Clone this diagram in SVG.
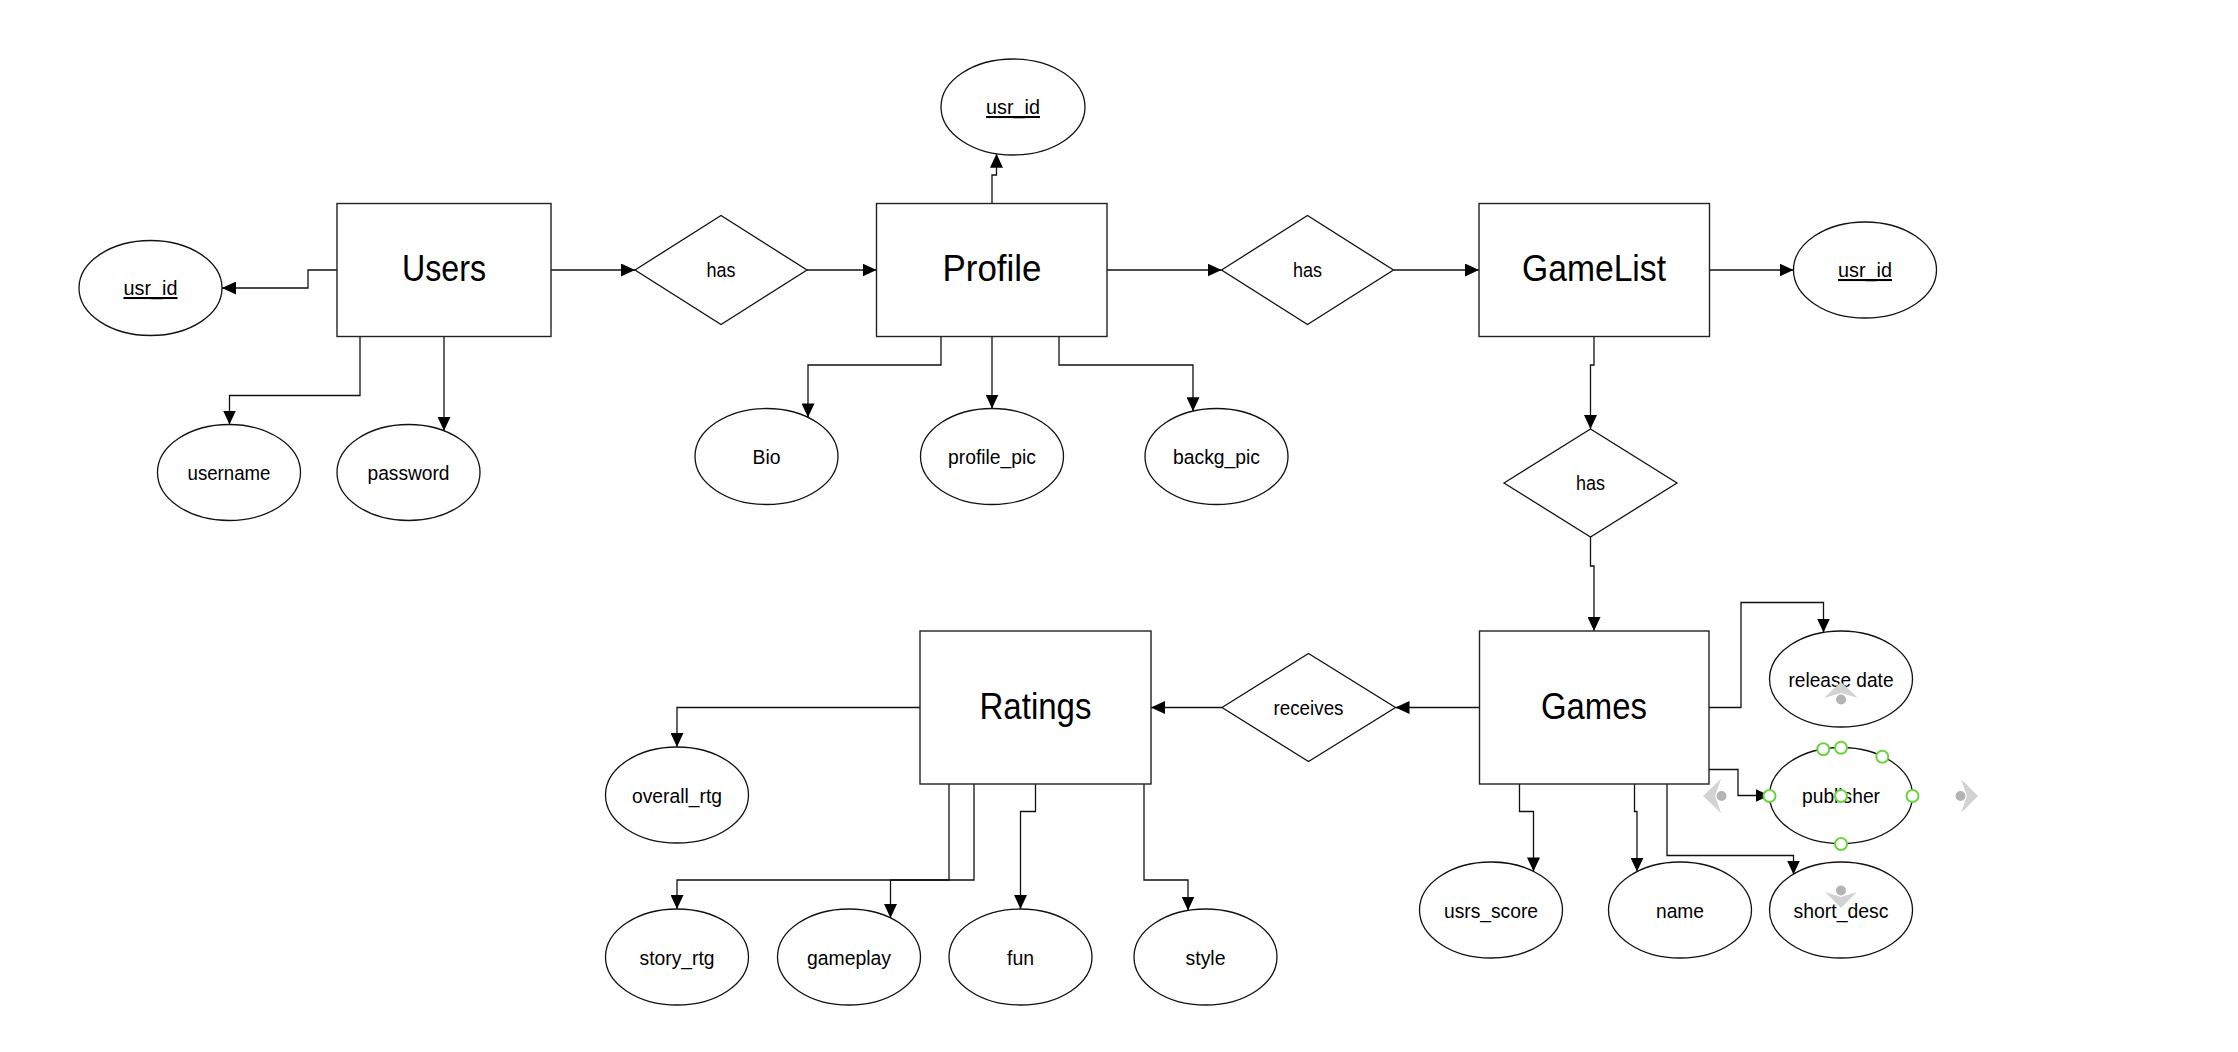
<svg xmlns="http://www.w3.org/2000/svg" width="2238" height="1052" viewBox="0 0 2238 1052">
<defs>
<marker id="arr" markerUnits="userSpaceOnUse" markerWidth="14" markerHeight="13" refX="14" refY="6.5" orient="auto">
<path d="M0,0 L14,6.5 L0,13 Z" fill="#000"/>
</marker>
<style>
.ent{fill:#fff;stroke:#222;stroke-width:1.4}
.att{fill:#fff;stroke:#111;stroke-width:1.3}
.rel{fill:#fff;stroke:#111;stroke-width:1.3}
.con{fill:none;stroke:#111;stroke-width:1.3;marker-end:url(#arr)}
.tt{font-family:"Liberation Sans",Arial,sans-serif;font-size:36px;text-anchor:middle;fill:#000}
.ts{font-family:"Liberation Sans",Arial,sans-serif;font-size:20.5px;text-anchor:middle;fill:#000}
.u{text-decoration:underline}
.hd{fill:#fff;stroke:#6ad43c;stroke-width:2}
.ha{fill:#d2d2d2}
.hdot{fill:#b4b4b4}
</style>
</defs>
<rect width="2238" height="1052" fill="#fff"/>

<g id="connectors">
<path class="con" d="M337,270 H308 V288 H222"/>
<path class="con" d="M551,270 H635"/>
<path class="con" d="M807,270 H876.5"/>
<path class="con" d="M360,336.5 V395.5 H229.5 V424.5"/>
<path class="con" d="M444,336.5 V430.8"/>
<path class="con" d="M992,203.5 V175 H996.5 V153.7"/>
<path class="con" d="M941,336.5 V365 H808 V417.4"/>
<path class="con" d="M992,336.5 V408.5"/>
<path class="con" d="M1059,336.5 V365 H1193 V411.2"/>
<path class="con" d="M1107,270 H1221.5"/>
<path class="con" d="M1393.5,270 H1479"/>
<path class="con" d="M1709.5,270 H1793.5"/>
<path class="con" d="M1594,336.5 V365 H1590.5 V429"/>
<path class="con" d="M1590.5,537 V566 H1594 V631"/>
<path class="con" d="M1479.5,707.5 H1395.5"/>
<path class="con" d="M1222,707.5 H1151"/>
<path class="con" d="M920,707.5 H677 V747"/>
<path class="con" d="M949,784 V880 H677 V909"/>
<path class="con" d="M974,784 V880 H890.5 V917.9"/>
<path class="con" d="M1035.5,784 V811.5 H1020.5 V909"/>
<path class="con" d="M1144,784 V880 H1188 V910.5"/>
<path class="con" d="M1709,707.5 H1741 V602.5 H1823.5 V632.5"/>
<path class="con" d="M1709,769.5 H1738 V795.5 H1769.5"/>
<path class="con" d="M1519.5,784 V811.5 H1533.5 V871.4"/>
<path class="con" d="M1634.5,784 V811.5 H1637 V871.6"/>
<path class="con" d="M1667,784 V855.5 H1793.5 V874.5"/>
</g>

<g id="users"><rect class="ent" x="337" y="203.5" width="214" height="133"/><text class="tt" x="444" y="281" textLength="84" lengthAdjust="spacingAndGlyphs">Users</text></g>
<g id="profile"><rect class="ent" x="876.5" y="203.5" width="230.5" height="133"/><text class="tt" x="992" y="281" textLength="99" lengthAdjust="spacingAndGlyphs">Profile</text></g>
<g id="gamelist"><rect class="ent" x="1479" y="203.5" width="230.5" height="133"/><text class="tt" x="1594" y="281" textLength="144" lengthAdjust="spacingAndGlyphs">GameList</text></g>
<g id="ratings"><rect class="ent" x="920" y="631" width="231" height="153"/><text class="tt" x="1035.5" y="718.5" textLength="112" lengthAdjust="spacingAndGlyphs">Ratings</text></g>
<g id="games"><rect class="ent" x="1479.5" y="631" width="229.5" height="153"/><text class="tt" x="1594" y="718.5" textLength="106" lengthAdjust="spacingAndGlyphs">Games</text></g>

<g id="has1"><polygon class="rel" points="635,270 721,215.5 807,270 721,324.5"/><text class="ts" x="721" y="277" textLength="29" lengthAdjust="spacingAndGlyphs">has</text></g>
<g id="has2"><polygon class="rel" points="1221.5,270 1307.5,215.5 1393.5,270 1307.5,324.5"/><text class="ts" x="1307.5" y="277" textLength="29" lengthAdjust="spacingAndGlyphs">has</text></g>
<g id="has3"><polygon class="rel" points="1504,483 1590.5,429 1677,483 1590.5,537"/><text class="ts" x="1590.5" y="490" textLength="29" lengthAdjust="spacingAndGlyphs">has</text></g>
<g id="receives"><polygon class="rel" points="1222,707.5 1308.5,653.5 1395.5,707.5 1308.5,761.5"/><text class="ts" x="1308.5" y="714.5" textLength="70" lengthAdjust="spacingAndGlyphs">receives</text></g>

<g id="users_usr_id"><ellipse class="att" cx="150.5" cy="288" rx="71.5" ry="47.5"/><text class="ts u" x="150.5" y="295" textLength="54" lengthAdjust="spacingAndGlyphs">usr_id</text></g>
<g id="username"><ellipse class="att" cx="229" cy="472.5" rx="71.5" ry="48"/><text class="ts" x="229" y="480" textLength="83" lengthAdjust="spacingAndGlyphs">username</text></g>
<g id="password"><ellipse class="att" cx="408.5" cy="472.5" rx="71.5" ry="48"/><text class="ts" x="408.5" y="480" textLength="82" lengthAdjust="spacingAndGlyphs">password</text></g>
<g id="profile_usr_id"><ellipse class="att" cx="1013" cy="107" rx="72" ry="48"/><text class="ts u" x="1013" y="114" textLength="54" lengthAdjust="spacingAndGlyphs">usr_id</text></g>
<g id="bio"><ellipse class="att" cx="766.5" cy="456.5" rx="71.5" ry="48"/><text class="ts" x="766.5" y="464" textLength="28" lengthAdjust="spacingAndGlyphs">Bio</text></g>
<g id="profile_pic"><ellipse class="att" cx="992" cy="456.5" rx="71.5" ry="48"/><text class="ts" x="992" y="464" textLength="88" lengthAdjust="spacingAndGlyphs">profile_pic</text></g>
<g id="backg_pic"><ellipse class="att" cx="1216.5" cy="456.5" rx="71.5" ry="48"/><text class="ts" x="1216.5" y="464" textLength="87" lengthAdjust="spacingAndGlyphs">backg_pic</text></g>
<g id="gamelist_usr_id"><ellipse class="att" cx="1865" cy="270" rx="71.5" ry="48"/><text class="ts u" x="1865" y="277" textLength="54" lengthAdjust="spacingAndGlyphs">usr_id</text></g>
<g id="release_date"><ellipse class="att" cx="1841" cy="679" rx="71.5" ry="48"/><text class="ts" x="1841" y="686.5" textLength="105" lengthAdjust="spacingAndGlyphs">release date</text></g>
<g id="publisher"><ellipse class="att" cx="1841" cy="795.5" rx="71.5" ry="48"/><text class="ts" x="1841" y="803" textLength="78" lengthAdjust="spacingAndGlyphs">publisher</text></g>
<g id="usrs_score"><ellipse class="att" cx="1491" cy="910" rx="71.5" ry="48"/><text class="ts" x="1491" y="917.5" textLength="94" lengthAdjust="spacingAndGlyphs">usrs_score</text></g>
<g id="name"><ellipse class="att" cx="1680" cy="910" rx="71.5" ry="48"/><text class="ts" x="1680" y="917.5" textLength="48" lengthAdjust="spacingAndGlyphs">name</text></g>
<g id="short_desc"><ellipse class="att" cx="1841" cy="910" rx="71.5" ry="48"/><text class="ts" x="1841" y="917.5" textLength="95" lengthAdjust="spacingAndGlyphs">short_desc</text></g>
<g id="overall_rtg"><ellipse class="att" cx="677" cy="795" rx="71.5" ry="48"/><text class="ts" x="677" y="802.5" textLength="90" lengthAdjust="spacingAndGlyphs">overall_rtg</text></g>
<g id="story_rtg"><ellipse class="att" cx="677" cy="957" rx="71.5" ry="48"/><text class="ts" x="677" y="964.5" textLength="75" lengthAdjust="spacingAndGlyphs">story_rtg</text></g>
<g id="gameplay"><ellipse class="att" cx="849" cy="957" rx="71.5" ry="48"/><text class="ts" x="849" y="964.5" textLength="84" lengthAdjust="spacingAndGlyphs">gameplay</text></g>
<g id="fun"><ellipse class="att" cx="1020.5" cy="957" rx="71.5" ry="48"/><text class="ts" x="1020.5" y="964.5" textLength="27" lengthAdjust="spacingAndGlyphs">fun</text></g>
<g id="style"><ellipse class="att" cx="1205.5" cy="957" rx="71.5" ry="48"/><text class="ts" x="1205.5" y="964.5" textLength="40" lengthAdjust="spacingAndGlyphs">style</text></g>

<g id="selection-handles">
<circle class="hd" cx="1823.3" cy="749.3" r="6"/>
<circle class="hd" cx="1841" cy="747.7" r="6"/>
<circle class="hd" cx="1882.3" cy="756.7" r="6"/>
<circle class="hd" cx="1769.5" cy="796" r="6"/>
<circle class="hd" cx="1841" cy="796" r="6"/>
<circle class="hd" cx="1912.5" cy="796" r="6"/>
<circle class="hd" cx="1841" cy="844" r="6"/>
<polygon class="ha" points="1703,796 1721,779 1715,796 1721,813"/>
<circle class="hdot" cx="1721.5" cy="796" r="5"/>
<polygon class="ha" points="1978,796 1961,779 1967,796 1961,813"/>
<circle class="hdot" cx="1960.5" cy="796" r="5"/>
<polygon class="ha" points="1841,682 1858,698 1841,693 1824,698"/>
<circle class="hdot" cx="1841" cy="699.5" r="5"/>
<polygon class="ha" points="1825,892 1841,897 1857,892 1841,908"/>
<circle class="hdot" cx="1841" cy="890.5" r="5"/>
</g>
</svg>
